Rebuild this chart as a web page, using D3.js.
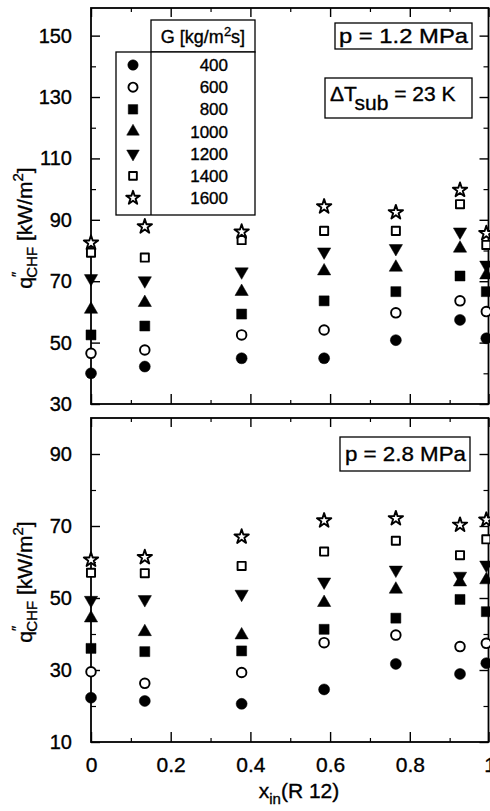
<!DOCTYPE html>
<html>
<head>
<meta charset="utf-8">
<script src="https://cdn.jsdelivr.net/npm/d3@7"></script>
<style>
  html, body { margin: 0; padding: 0; background: #fff; }
  svg { display: block; font-family: "Liberation Sans", Arial, Helvetica, sans-serif; }
  svg text { stroke: #000; stroke-width: 0.35px; fill: #000; }
</style>
</head>
<body>
<svg id="chart" width="490" height="811"></svg>
<script>
// ---------------- data ----------------
const massFlux = [400, 600, 800, 1000, 1200, 1400, 1600];           // G [kg/m2s]
const xIn = [0, 0.135, 0.378, 0.585, 0.765, 0.926, 0.992];          // inlet quality columns

// p = 1.2 MPa
const q12_400  = [40.0, 42.2, 44.9, 44.9, 50.8, 57.4, 51.4];
const q12_600  = [46.5, 47.6, 52.5, 54.1, 59.7, 63.6, 60.1];
const q12_800  = [52.5, 55.4, 59.3, 63.6, 66.6, 71.7, 66.6];
const q12_1000 = [60.8, 63.0, 66.6, 73.3, 74.5, 80.7, 72.0];
const q12_1200 = [70.9, 70.2, 73.1, 79.6, 80.7, 86.1, 75.3];
const q12_1400 = [79.3, 77.7, 83.4, 86.4, 86.4, 95.1, 81.8];
const q12_1600 = [82.5, 87.8, 86.1, 94.3, 92.4, 99.7, 85.6];

// p = 2.8 MPa
const q28_400  = [22.3, 21.4, 20.6, 24.6, 31.7, 28.9, 31.9];
const q28_600  = [29.5, 26.3, 29.3, 37.6, 39.7, 36.5, 37.4];
const q28_800  = [36.0, 35.1, 35.3, 41.3, 44.4, 49.6, 46.2];
const q28_1000 = [44.4, 40.6, 39.7, 48.7, 52.4, 54.4, 55.0];
const q28_1200 = [49.4, 49.6, 51.1, 54.5, 57.8, 56.1, 59.2];
const q28_1400 = [57.0, 56.9, 58.9, 62.9, 65.9, 61.9, 66.3];
const q28_1600 = [60.6, 61.3, 67.0, 71.5, 72.1, 70.3, 71.7];

const xMajorTicks = [0, 0.2, 0.4, 0.6, 0.8, 1.0];
const xTickLabels = ["0", "0.2", "0.4", "0.6", "0.8", "1"];
const xMinorTicks = [0.1, 0.3, 0.5, 0.7, 0.9];
const yTopMajor = [30, 50, 70, 90, 110, 130, 150];
const yTopMinor = [40, 60, 80, 100, 120, 140];
const yBotMajor = [10, 30, 50, 70, 90];
const yBotMinor = [20, 40, 60, 80];

// ---------------- layout ----------------
const svg = d3.select("#chart");
svg.append("rect").attr("width", 490).attr("height", 811).attr("fill", "#fff");

const X0 = 91, X1 = 489.5;
const x = d3.scaleLinear().domain([0, 1]).range([X0, X1]);

const panels = [
  { series: [q12_400, q12_600, q12_800, q12_1000, q12_1200, q12_1400, q12_1600],
    y: d3.scaleLinear().domain([30, 159]).range([404, 8]),
    major: yTopMajor, minor: yTopMinor, top: 8, bottom: 404, labelY: 228 },
  { series: [q28_400, q28_600, q28_800, q28_1000, q28_1200, q28_1400, q28_1600],
    y: d3.scaleLinear().domain([10, 100]).range([742, 418]),
    major: yBotMajor, minor: yBotMinor, top: 418, bottom: 742, labelY: 582 }
];

// symbol definitions per G
const symDefs = [
  { type: d3.symbolCircle,   size: 95, fill: "#000", rot: 0 },
  { type: d3.symbolCircle,   size: 72, fill: "#fff", rot: 0 },
  { type: d3.symbolSquare,   size: 100, fill: "#000", rot: 0 },
  { type: d3.symbolTriangle, size: 76, fill: "#000", rot: 0 },
  { type: d3.symbolTriangle, size: 76, fill: "#000", rot: 180 },
  { type: d3.symbolSquare,   size: 66, fill: "#fff", rot: 0 },
  { type: d3.symbolStar,     size: 64, fill: "#fff", rot: 0 }
];

function drawSymbol(g, i, cx, cy, scale = 1) {
  const s = symDefs[i];
  g.append("path")
    .attr("d", d3.symbol().type(s.type).size(s.size * scale)())
    .attr("transform", `translate(${cx},${cy}) rotate(${s.rot})`)
    .attr("fill", s.fill)
    .attr("stroke", "#000")
    .attr("stroke-width", s.fill === "#fff" ? 1.9 : 0.5)
    .attr("stroke-linejoin", "round");
}

panels.forEach((p, pi) => {
  const g = svg.append("g");

  // left axis (major with labels)
  g.append("g").attr("transform", `translate(${X0},0)`)
    .call(d3.axisLeft(p.y).tickValues(p.major).tickSize(-9).tickPadding(19))
    .call(a => a.select(".domain").remove())
    .call(a => a.selectAll("line").attr("stroke", "#000").attr("stroke-width", 1.4))
    .call(a => a.selectAll("text").attr("font-size", 20)
      .attr("font-family", "Liberation Sans, Arial, sans-serif"));
  g.append("g").attr("transform", `translate(${X0},0)`)
    .call(d3.axisLeft(p.y).tickValues(p.minor).tickSize(-5).tickFormat(""))
    .call(a => a.select(".domain").remove())
    .call(a => a.selectAll("line").attr("stroke", "#000").attr("stroke-width", 1.2));

  // right axis ticks (inward)
  g.append("g").attr("transform", `translate(${X1 - 1},0)`)
    .call(d3.axisRight(p.y).tickValues(p.major).tickSize(-9).tickFormat(""))
    .call(a => a.select(".domain").remove())
    .call(a => a.selectAll("line").attr("stroke", "#000").attr("stroke-width", 1.4));
  g.append("g").attr("transform", `translate(${X1 - 1},0)`)
    .call(d3.axisRight(p.y).tickValues(p.minor).tickSize(-5).tickFormat(""))
    .call(a => a.select(".domain").remove())
    .call(a => a.selectAll("line").attr("stroke", "#000").attr("stroke-width", 1.2));

  // bottom axis ticks
  const bottomAxis = d3.axisBottom(x).tickValues(xMajorTicks).tickSize(-10).tickPadding(15)
    .tickFormat((d, i) => pi === 1 ? xTickLabels[i] : "");
  g.append("g").attr("transform", `translate(0,${p.bottom})`)
    .call(bottomAxis)
    .call(a => a.select(".domain").remove())
    .call(a => a.selectAll("line").attr("stroke", "#000").attr("stroke-width", 1.4))
    .call(a => a.selectAll("text").attr("font-size", 21)
      .attr("font-family", "Liberation Sans, Arial, sans-serif"));
  g.append("g").attr("transform", `translate(0,${p.bottom})`)
    .call(d3.axisBottom(x).tickValues(xMinorTicks).tickSize(-4).tickFormat(""))
    .call(a => a.select(".domain").remove())
    .call(a => a.selectAll("line").attr("stroke", "#000").attr("stroke-width", 1.2));

  // top axis ticks
  g.append("g").attr("transform", `translate(0,${p.top})`)
    .call(d3.axisTop(x).tickValues(xMajorTicks).tickSize(-9).tickFormat(""))
    .call(a => a.select(".domain").remove())
    .call(a => a.selectAll("line").attr("stroke", "#000").attr("stroke-width", 1.4));
  g.append("g").attr("transform", `translate(0,${p.top})`)
    .call(d3.axisTop(x).tickValues(xMinorTicks).tickSize(-4).tickFormat(""))
    .call(a => a.select(".domain").remove())
    .call(a => a.selectAll("line").attr("stroke", "#000").attr("stroke-width", 1.2));

  // frame
  g.append("rect")
    .attr("x", X0).attr("y", p.top)
    .attr("width", X1 - 1 - X0).attr("height", p.bottom - p.top)
    .attr("fill", "none").attr("stroke", "#000").attr("stroke-width", 1.8);

  // y axis title
  const t = g.append("text")
    .attr("transform", `translate(32,${p.labelY}) rotate(-90)`)
    .attr("text-anchor", "middle")
    .attr("font-size", 21);
  t.append("tspan").text("q");
  t.append("tspan").attr("font-size", 15).attr("dy", -10).text("″");
  t.append("tspan").attr("font-size", 15).attr("dx", -6).attr("dy", 15).text("CHF");
  t.append("tspan").attr("dy", -5).text(" [kW/m");
  t.append("tspan").attr("font-size", 15).attr("dy", -9).text("2");
  t.append("tspan").attr("dy", 9).text("]");

  // data points
  p.series.forEach((vals, si) => {
    vals.forEach((v, ci) => {
      drawSymbol(g, si, x(xIn[ci]), p.y(v));
    });
  });
});

// ---------- annotations ----------
function box(x0, y0, w, h) {
  svg.append("rect").attr("x", x0).attr("y", y0).attr("width", w).attr("height", h)
    .attr("fill", "#fff").attr("stroke", "#000").attr("stroke-width", 1.3);
}
// p = 1.2 MPa
box(335, 23, 137, 26);
svg.append("text").attr("x", 339).attr("y", 43)
  .attr("font-size", 21).attr("textLength", 129).attr("lengthAdjust", "spacingAndGlyphs")
  .text("p = 1.2 MPa");
// ΔT_sub = 23 K
box(325, 78, 147, 40);
{
  const t = svg.append("text").attr("x", 330).attr("y", 101).attr("font-size", 21);
  t.append("tspan").text("ΔT");
  t.append("tspan").attr("dy", 9).text("sub");
  t.append("tspan").attr("dy", -9).text(" = 23 K");
}
// p = 2.8 MPa
box(340, 437, 130, 34);
svg.append("text").attr("x", 345).attr("y", 461)
  .attr("font-size", 21).attr("textLength", 121).attr("lengthAdjust", "spacingAndGlyphs")
  .text("p = 2.8 MPa");

// ---------- legend ----------
const lg = svg.append("g");
lg.append("rect").attr("x", 151).attr("y", 20).attr("width", 104).attr("height", 32)
  .attr("fill", "#fff").attr("stroke", "#000").attr("stroke-width", 1.3);
lg.append("rect").attr("x", 116).attr("y", 52).attr("width", 139).attr("height", 163)
  .attr("fill", "#fff").attr("stroke", "#000").attr("stroke-width", 1.3);
lg.append("line").attr("x1", 151).attr("x2", 151).attr("y1", 52).attr("y2", 215)
  .attr("stroke", "#000").attr("stroke-width", 1.3);
{
  const t = lg.append("text").attr("x", 203).attr("y", 43).attr("text-anchor", "middle").attr("font-size", 18);
  t.append("tspan").text("G [kg/m");
  t.append("tspan").attr("font-size", 13).attr("dy", -7).text("2");
  t.append("tspan").attr("dy", 7).text("s]");
}
const rowY = d3.scaleLinear().domain([0, massFlux.length - 1]).range([65, 198]);
massFlux.forEach((gv, i) => {
  drawSymbol(lg, i, 133, rowY(i), 0.9);
  lg.append("text").attr("x", 228).attr("y", rowY(i) + 6).attr("text-anchor", "end")
    .attr("font-size", 17).text(gv);
});

// x axis title
{
  const t = svg.append("text").attr("x", 299).attr("y", 798).attr("text-anchor", "middle").attr("font-size", 21);
  t.append("tspan").text("x");
  t.append("tspan").attr("font-size", 15).attr("dy", 6).text("in");
  t.append("tspan").attr("dy", -6).text("(R 12)");
}
</script>
</body>
</html>
